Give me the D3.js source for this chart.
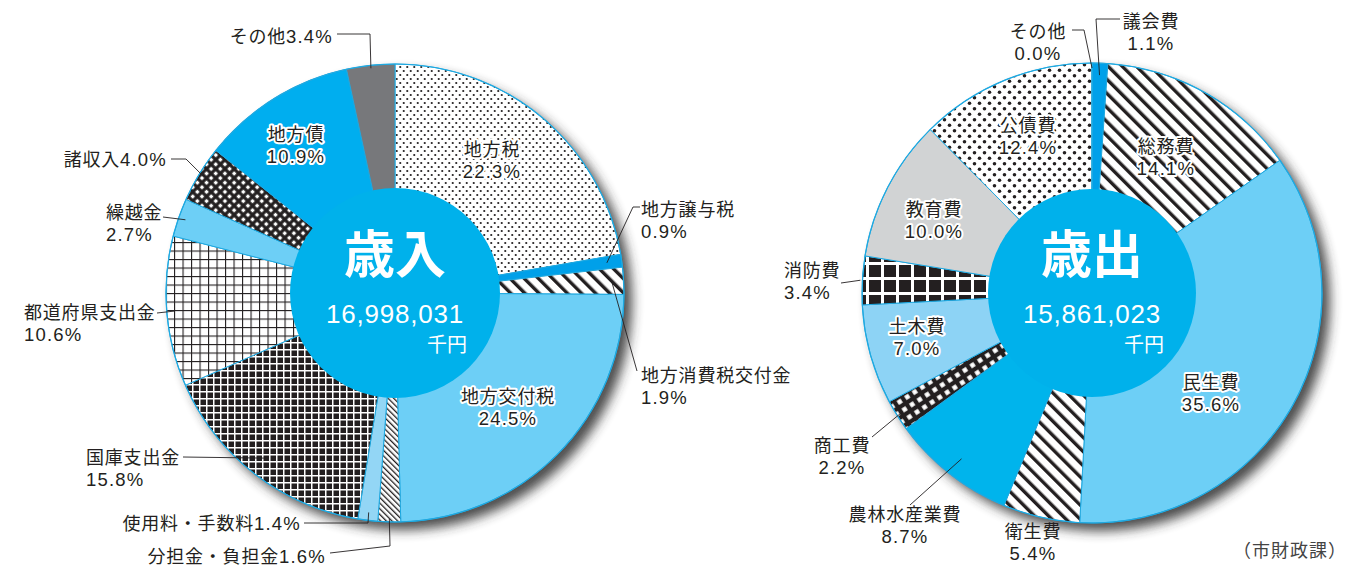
<!DOCTYPE html>
<html><head><meta charset="utf-8">
<script src="https://cdn.jsdelivr.net/npm/d3@7"></script>
<style>
body{margin:0;background:#fff}
svg{display:block}
text{font-family:"Noto Sans CJK JP","Noto Sans",sans-serif}
.num{font-family:"Liberation Sans","Noto Sans",sans-serif}
</style>
</head><body>
<svg id="c" width="1367" height="568"></svg>
<script>
// ---------------- DATA ----------------
const revenueCategories = ["地方税","地方譲与税","地方消費税交付金","地方交付税","分担金・負担金","使用料・手数料","国庫支出金","都道府県支出金","繰越金","諸収入","地方債","その他"];
const revenueShares = [22.3,0.9,1.9,24.5,1.6,1.4,15.8,10.6,2.7,4.0,10.9,3.4];
const revenueTitle = "歳入";
const revenueTotal = "16,998,031";

const expenditureCategories = ["議会費","総務費","民生費","衛生費","農林水産業費","商工費","土木費","消防費","教育費","公債費","その他"];
const expenditureShares = [1.1,14.1,35.6,5.4,8.7,2.2,7.0,3.4,10.0,12.4,0.0];
const expenditureTitle = "歳出";
const expenditureTotal = "15,861,023";

const unitLabel = "千円";
const sourceNote = "（市財政課）";

// ---------------- STYLES ----------------
const revenueFills = ["url(#dotsS)","#00a0e9","url(#stripes)","#6dcff6","url(#hatch)","#93d6f5","url(#darkgrid)","url(#grid)","#6dcff6","url(#diamond)","#00aeef","#77787b"];
const expenditureFills = ["#00a0e9","url(#stripes)","#6dcff6","url(#stripes)","#00b4ec","url(#diamond2)","#8dd3f5","url(#bigsq)","#d1d3d4","url(#dotsL)","#00a0e9"];

const svg = d3.select("#c");
const defs = svg.append("defs");

const f = defs.append("filter").attr("id","shadow").attr("x","-20%").attr("y","-20%").attr("width","140%").attr("height","140%");
f.append("feGaussianBlur").attr("stdDeviation",6);

function pat(id,w,h,bg,transform){
  const p = defs.append("pattern").attr("id",id).attr("patternUnits","userSpaceOnUse").attr("width",w).attr("height",h);
  if(transform) p.attr("patternTransform",transform);
  p.append("rect").attr("width",w).attr("height",h).attr("fill",bg);
  return p;
}
let p;
p = pat("dotsS",7,8,"#fff");
p.append("circle").attr("cx",1.75).attr("cy",2).attr("r",1.1).attr("fill","#231f20");
p.append("circle").attr("cx",5.25).attr("cy",6).attr("r",1.1).attr("fill","#231f20");
p = pat("dotsL",10,11,"#fff");
p.append("circle").attr("cx",2.5).attr("cy",2.75).attr("r",1.8).attr("fill","#231f20");
p.append("circle").attr("cx",7.5).attr("cy",8.25).attr("r",1.8).attr("fill","#231f20");
p = pat("stripes",10,10,"#fff","rotate(-45)");
p.append("rect").attr("x",0).attr("y",0).attr("width",3.4).attr("height",10).attr("fill","#231f20");
p = pat("hatch",4,4,"#fff","rotate(-45)");
p.append("rect").attr("x",0).attr("y",0).attr("width",1.3).attr("height",4).attr("fill","#231f20");
p = pat("darkgrid",7,7,"#fff");
p.append("rect").attr("x",1.5).attr("y",1.5).attr("width",5.5).attr("height",5.5).attr("fill","#231f20");
p = pat("grid",8.5,8.5,"#fff");
p.append("rect").attr("x",0).attr("y",0).attr("width",1.1).attr("height",8.5).attr("fill","#231f20");
p.append("rect").attr("x",0).attr("y",0).attr("width",8.5).attr("height",1.1).attr("fill","#231f20");
p = pat("diamond",6.5,6.5,"#231f20","rotate(45)");
p.append("rect").attr("x",1.6).attr("y",1.6).attr("width",3.3).attr("height",3.3).attr("fill","#fff");
p = pat("diamond2",9,9,"#231f20","rotate(-33)");
p.append("rect").attr("x",2.2).attr("y",2.2).attr("width",4.6).attr("height",4.6).attr("fill","#fff");
p = pat("bigsq",15,15,"#fff");
p.append("rect").attr("x",2).attr("y",2).attr("width",12).attr("height",12).attr("fill","#231f20");

const fmtPct = v => d3.format(".1f")(v) + "%";
const TXT = "#231f20";
const LINE_GAP = 22;

function drawPie(cfg){
  const {cx, cy, R, r0, cats, vals, fills, title, total, labels} = cfg;
  const g = svg.append("g");
  g.append("circle").attr("cx",cx+8).attr("cy",cy+8).attr("r",R).attr("fill","#2e2e2e").attr("opacity",0.85).attr("filter","url(#shadow)");
  const pie = d3.pie().sort(null).value(d=>d).startAngle(0).endAngle(2*Math.PI);
  const arcs = pie(vals);
  const arc = d3.arc().innerRadius(0).outerRadius(R);
  const pg = g.append("g").attr("transform",`translate(${cx},${cy})`);
  pg.selectAll("path.s").data(arcs).join("path").attr("class","s")
    .attr("d",arc).attr("fill",(d,i)=>fills[i])
    .attr("stroke","#1fa9e1").attr("stroke-width",1).attr("stroke-linejoin","round");
  pg.append("circle").attr("r",R).attr("fill","none").attr("stroke","#1fa9e1").attr("stroke-width",1.2);
  pg.append("circle").attr("r",r0).attr("fill","#00b1eb");
  pg.append("text").attr("x",0).attr("y",-20).attr("text-anchor","middle").attr("font-size",51).attr("font-weight","bold").attr("fill","#fff").text(title);
  pg.append("text").attr("class","num").attr("x",0).attr("y",30).attr("text-anchor","middle").attr("font-size",26).attr("fill","#fff").attr("letter-spacing","0.8").text(total);
  pg.append("text").attr("x",72).attr("y",59).attr("text-anchor","end").attr("font-size",20).attr("fill","#fff").text(unitLabel);

  const pt = (a, rr) => [cx + rr*Math.sin(a), cy - rr*Math.cos(a)];
  const lg = g.append("g");
  labels.forEach(L => {
    const d = arcs[L.i];
    const name = cats[L.i], pct = fmtPct(vals[L.i]);
    if(L.path){
      const mid = (d.startAngle + d.endAngle)/2;
      const pts = L.path.concat([pt(mid, L.r)]);
      lg.append("path").attr("d", d3.line()(pts)).attr("fill","none").attr("stroke",TXT).attr("stroke-width",0.9);
    }
    const styleText = t => {
      t.attr("fill",TXT).attr("text-anchor",L.anchor||"middle");
      if(L.inside) t.attr("stroke","#fff").attr("stroke-width",4).attr("stroke-linejoin","round").attr("paint-order","stroke");
      return t;
    };
    if(L.single){
      const t = styleText(lg.append("text").attr("x",L.x).attr("y",L.y));
      t.append("tspan").attr("font-size",18).attr("letter-spacing","0.8").text(name);
      t.append("tspan").attr("class","num").attr("font-size",18.5).attr("letter-spacing","1.2").text(pct);
    } else {
      styleText(lg.append("text").attr("x",L.x).attr("y",L.y).attr("font-size",18).attr("letter-spacing","0.8")).text(name);
      styleText(lg.append("text").attr("class","num").attr("x",L.x2!==undefined?L.x2:L.x).attr("y",L.y+LINE_GAP).attr("font-size",18.5).attr("letter-spacing","1.2")).text(pct);
    }
  });
}

drawPie({
  cx:395, cy:293, R:229, r0:105,
  cats:revenueCategories, vals:revenueShares, fills:revenueFills,
  title:revenueTitle, total:revenueTotal,
  labels:[
    {i:0, inside:true, x:492, y:156},
    {i:1, anchor:"start", x:641, y:216, path:[[640,207],[633,207]], r:214},
    {i:2, anchor:"start", x:641, y:382, path:[[637,371]], r:217},
    {i:3, inside:true, x:508, y:403},
    {i:4, single:true, anchor:"end", x:326, y:563, path:[[330,553],[390,546]], r:226},
    {i:5, single:true, anchor:"end", x:301, y:530, path:[[304,523],[368,523]], r:221},
    {i:6, anchor:"start", x:86, y:464, path:[[183,457]], r:209},
    {i:7, anchor:"start", x:24, y:319, path:[[157,313]], r:221},
    {i:8, anchor:"start", x:106, y:219, path:[[163,217]], r:222},
    {i:9, single:true, anchor:"end", x:167, y:166, path:[[171,159],[186,159]], r:224},
    {i:10, inside:true, x:296, y:141},
    {i:11, single:true, anchor:"end", x:333, y:43, path:[[337,34],[370,34]], r:226}
  ]
});

drawPie({
  cx:1092, cy:293, R:230, r0:104,
  cats:expenditureCategories, vals:expenditureShares, fills:expenditureFills,
  title:expenditureTitle, total:expenditureTotal,
  labels:[
    {i:0, anchor:"middle", x:1151, y:28, path:[[1120,19],[1096,19]], r:218},
    {i:1, inside:true, x:1166, y:153},
    {i:2, inside:true, x:1211, y:389},
    {i:3, anchor:"middle", x:1033, y:538},
    {i:4, anchor:"middle", x:905, y:521, path:[[910,505]], r:211},
    {i:5, anchor:"middle", x:842, y:452, path:[[872,437]], r:226},
    {i:6, inside:true, x:917, y:333},
    {i:7, anchor:"start", x:784, y:277, path:[[841,283]], r:232},
    {i:8, inside:true, x:934, y:216},
    {i:9, inside:true, x:1028, y:132},
    {i:10, anchor:"middle", x:1038, y:38, path:[[1072,30],[1084,30]], r:225}
  ]
});

svg.append("text").attr("x",1347).attr("y",557).attr("text-anchor","end").attr("font-size",18).attr("letter-spacing","1").attr("fill","#444").text(sourceNote);
</script>
</body></html>
